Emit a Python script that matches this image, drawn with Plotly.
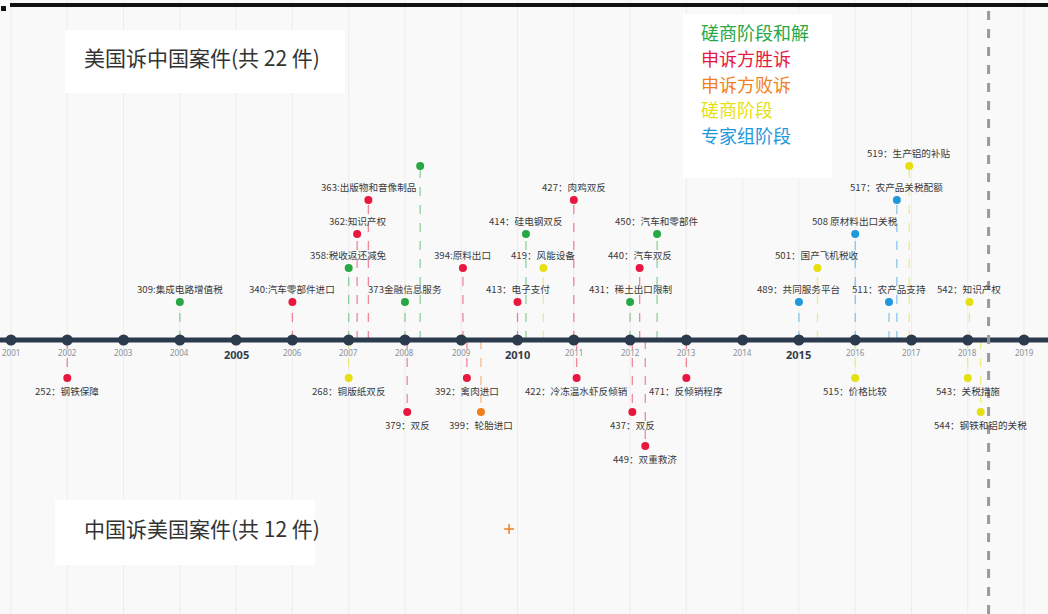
import plotly.graph_objects as go

# ---------------- data ----------------
years = list(range(2001, 2020))
major_years = [2005, 2010, 2015]

status_names = ["磋商阶段和解", "申诉方胜诉", "申诉方败诉", "磋商阶段", "专家组阶段"]
status_colors = ["#27a844", "#e8173f", "#f07f1e", "#e6df12", "#1f98dc"]

# cases above the timeline
up_time = [2004.0, 2006.0, 2007.0, 2007.15, 2007.35, 2008.27, 2008.0, 2009.03,
           2010.0, 2010.15, 2010.46, 2011.0, 2012.0, 2012.17, 2012.48,
           2015.0, 2015.33, 2016.0, 2016.6, 2016.74, 2016.96, 2018.03]
up_level = [1, 1, 2, 3, 4, 5, 1, 2,
            1, 3, 2, 4, 1, 2, 3,
            1, 2, 3, 1, 4, 5, 1]
up_status = [0, 1, 0, 1, 1, 0, 0, 1,
             1, 0, 3, 1, 0, 1, 0,
             4, 3, 4, 4, 4, 3, 3]
up_label = ["309:集成电路增值税", "340:汽车零部件进口", "358:税收返还减免", "362:知识产权",
            "363:出版物和音像制品", "", "373金融信息服务", "394:原料出口",
            "413：电子支付", "414：硅电钢双反", "419：风能设备", "427：肉鸡双反",
            "431：稀土出口限制", "440：汽车双反", "450：汽车和零部件",
            "489：共同服务平台", "501：国产飞机税收", "508 原材料出口关税", "511：农产品支持",
            "517：农产品关税配额", "519：生产铝的补贴", "542：知识产权"]

# cases below the timeline
down_time = [2002.0, 2007.0, 2008.04, 2009.1, 2009.35, 2011.05, 2012.04, 2012.27,
             2013.0, 2016.0, 2018.0, 2018.23]
down_level = [1, 1, 2, 1, 2, 1, 2, 3, 1, 1, 1, 2]
down_status = [1, 3, 1, 1, 2, 1, 1, 1, 1, 3, 3, 3]
down_label = ["252：钢铁保障", "268：铜版纸双反", "379：双反", "392：禽肉进口", "399：轮胎进口",
              "422：冷冻温水虾反倾销", "437：双反", "449：双重救济", "471：反倾销程序",
              "515：价格比较", "543：关税措施", "544：钢铁和铝的关税"]

title_up = "美国诉中国案件(共 22 件)"
title_down = "中国诉美国案件(共 12 件)"
now_marker = 2018.37
cn_case_time = [2009.85]

# ---------------- layout helpers ----------------
W, H = 1048, 614
px_per_year = 56.28
x0 = 2001 - 11 / px_per_year
x1 = 2001 + (W - 11) / px_per_year
axis_px = 340
px_per_level = 34
y_top = axis_px / px_per_level
y_bot = -(H - axis_px) / px_per_level
OFF = 0.12   # small offset of level 1 from timeline


def ypos(level, sign):
    return sign * (level + OFF)


def rgba(hexc, a):
    h = hexc.lstrip("#")
    r, g, b = int(h[0:2], 16), int(h[2:4], 16), int(h[4:6], 16)
    return f"rgba({r},{g},{b},{a})"


fig = go.Figure()
shapes = []
annotations = []

# background vertical grid
for yr in years:
    shapes.append(dict(type="line", xref="x", yref="paper", x0=yr, x1=yr, y0=0, y1=1,
                       line=dict(color="#ededed", width=1), layer="below"))

# white boxes
shapes.append(dict(type="rect", xref="paper", yref="paper",
                   x0=65 / W, x1=345 / W, y0=1 - 93 / H, y1=1 - 30 / H,
                   fillcolor="white", line=dict(width=0), layer="below"))
shapes.append(dict(type="rect", xref="paper", yref="paper",
                   x0=55 / W, x1=315 / W, y0=1 - 565 / H, y1=1 - 500 / H,
                   fillcolor="white", line=dict(width=0), layer="below"))
shapes.append(dict(type="rect", xref="paper", yref="paper",
                   x0=683 / W, x1=832 / W, y0=1 - 178 / H, y1=1 - 14 / H,
                   fillcolor="white", line=dict(width=0), layer="below"))

# top border line
shapes.append(dict(type="line", xref="paper", yref="paper", x0=10 / W, x1=1, y0=1 - 5 / H, y1=1 - 5 / H,
                   line=dict(color="#111111", width=4)))
shapes.append(dict(type="rect", xref="paper", yref="paper", x0=1 / W, x1=6 / W,
                   y0=1 - 11 / H, y1=1 - 6 / H, fillcolor="#111111", line=dict(width=0)))

# "now" marker
shapes.append(dict(type="line", xref="x", yref="paper", x0=now_marker, x1=now_marker,
                   y0=0, y1=1 - 8 / H, line=dict(color="#9a9a9a", width=3, dash="dash")))

# stems
for t, lv, st in zip(up_time, up_level, up_status):
    shapes.append(dict(type="line", xref="x", yref="y", x0=t, x1=t, y0=0, y1=ypos(lv, 1),
                       line=dict(color=rgba(status_colors[st], 0.5), width=1.3, dash="dash"),
                       layer="below"))
for t, lv, st in zip(down_time, down_level, down_status):
    shapes.append(dict(type="line", xref="x", yref="y", x0=t, x1=t, y0=0, y1=ypos(lv, -1),
                       line=dict(color=rgba(status_colors[st], 0.5), width=1.3, dash="dash"),
                       layer="below"))

# timeline axis
fig.add_trace(go.Scatter(x=[x0, x1], y=[0, 0], mode="lines",
                         line=dict(color="#2b3a4c", width=5), hoverinfo="skip", showlegend=False))
fig.add_trace(go.Scatter(x=years, y=[0] * len(years), mode="markers",
                         marker=dict(color="#2b3a4c", size=11), hoverinfo="skip", showlegend=False))

# year labels
for yr in years:
    major = yr in major_years
    annotations.append(dict(x=yr, y=0, xref="x", yref="y", text=f"<b>{yr}</b>" if major else str(yr),
                            showarrow=False, yshift=-14 if major else -12,
                            font=dict(size=11 if major else 8,
                                      color="#333d4a" if major else "#8a8f96",
                                      family="Noto Sans, sans-serif")))

# case dots
fig.add_trace(go.Scatter(x=up_time, y=[ypos(l, 1) for l in up_level], mode="markers",
                         marker=dict(color=[status_colors[s] for s in up_status], size=8),
                         text=up_label, hoverinfo="text", showlegend=False))
fig.add_trace(go.Scatter(x=down_time, y=[ypos(l, -1) for l in down_level], mode="markers",
                         marker=dict(color=[status_colors[s] for s in down_status], size=8),
                         text=down_label, hoverinfo="text", showlegend=False))

lab_font = dict(size=9.6, color="#3a3a3a", family="Noto Sans CJK SC, sans-serif")
for t, lv, lab in zip(up_time, up_level, up_label):
    if lab:
        annotations.append(dict(x=t, y=ypos(lv, 1), xref="x", yref="y", text=lab, showarrow=False,
                                yshift=13, font=lab_font))
for t, lv, lab in zip(down_time, down_level, down_label):
    annotations.append(dict(x=t, y=ypos(lv, -1), xref="x", yref="y", text=lab, showarrow=False,
                            yshift=-13, font=lab_font))

# China v US marker
fig.add_trace(go.Scatter(x=cn_case_time, y=[-(529 - axis_px) / px_per_level], mode="markers",
                         marker=dict(color="#f07f1e", size=7, symbol="cross-thin",
                                     line=dict(color="#f07f1e", width=1.5)),
                         hoverinfo="skip", showlegend=False))

# titles
annotations.append(dict(x=82 / W, y=1 - 57 / H, xref="paper", yref="paper", text=title_up,
                        showarrow=False, xanchor="left", yanchor="middle",
                        font=dict(size=21, color="#333333", family="Noto Sans CJK SC, sans-serif")))
annotations.append(dict(x=82 / W, y=1 - 528 / H, xref="paper", yref="paper", text=title_down,
                        showarrow=False, xanchor="left", yanchor="middle",
                        font=dict(size=21, color="#333333", family="Noto Sans CJK SC, sans-serif")))

# legend
for i, (nm, col) in enumerate(zip(status_names, status_colors)):
    annotations.append(dict(x=699 / W, y=1 - (32 + 25.8 * i) / H, xref="paper", yref="paper",
                            text=nm, showarrow=False, xanchor="left", yanchor="middle",
                            font=dict(size=18, color=col, family="Noto Sans CJK SC, sans-serif")))

fig.update_layout(
    width=W, height=H,
    margin=dict(l=0, r=0, t=0, b=0),
    paper_bgcolor="#f9f9f9", plot_bgcolor="#f9f9f9",
    xaxis=dict(range=[x0, x1], visible=False, fixedrange=True),
    yaxis=dict(range=[y_bot, y_top], visible=False, fixedrange=True),
    shapes=shapes, annotations=annotations,
    showlegend=False,
)

fig.write_html("out.html", config={"displayModeBar": False},
               post_script="document.body.style.margin='0';document.body.style.overflow='hidden';")
